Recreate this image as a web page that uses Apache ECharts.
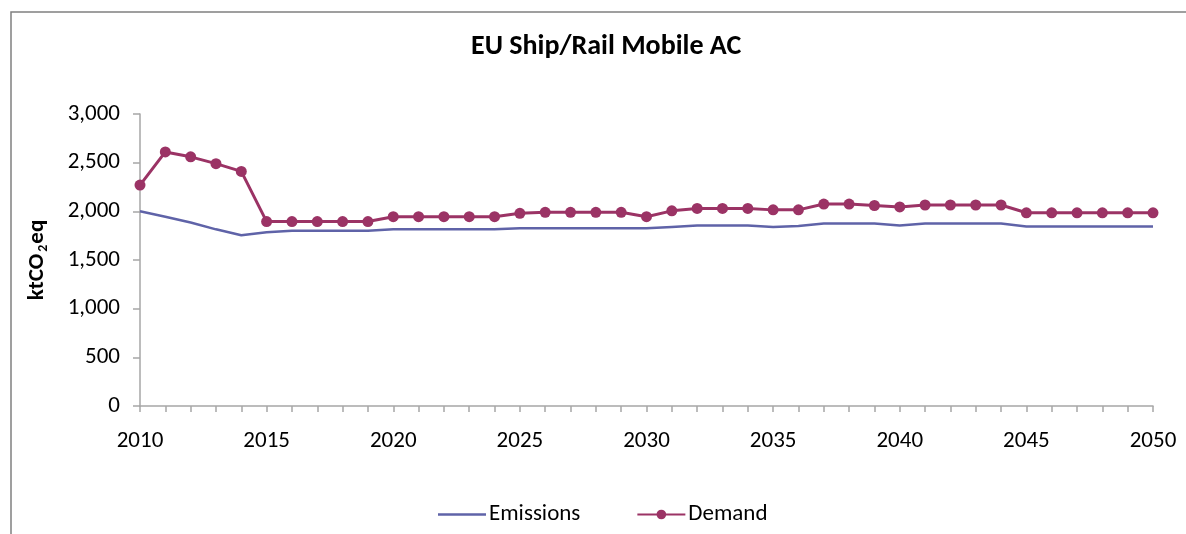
<!DOCTYPE html>
<html>
<head>
<meta charset="utf-8">
<script src="https://cdn.jsdelivr.net/npm/echarts@6/dist/echarts.min.js"></script>
<style>
  html, body { margin: 0; padding: 0; background: #fff; }
  #chart { width: 1186px; height: 534px; }
</style>
</head>
<body>
<div id="chart"></div>
<script>
// Yearly series, 2010–2050 (ktCO2eq)
const years = [];
for (let y = 2010; y <= 2050; y++) years.push(y);

const emissions = [
  2000, 1945, 1885, 1815, 1755, 1785, 1800, 1800, 1800, 1800,
  1815, 1815, 1815, 1815, 1815, 1825, 1825, 1825, 1825, 1825,
  1825, 1840, 1855, 1855, 1855, 1840, 1850, 1875, 1875, 1875,
  1855, 1875, 1875, 1875, 1875, 1845, 1845, 1845, 1845, 1845,
  1845
];

const demand = [
  2270, 2610, 2560, 2490, 2410, 1895, 1895, 1895, 1895, 1895,
  1945, 1945, 1945, 1945, 1945, 1980, 1990, 1990, 1990, 1990,
  1945, 2005, 2030, 2030, 2030, 2015, 2015, 2075, 2075, 2060,
  2045, 2065, 2065, 2065, 2065, 1985, 1985, 1985, 1985, 1985,
  1985
];

const yTicks = { min: 0, max: 3000, interval: 500 };
const xTicks = { min: 2010, max: 2050, interval: 5 };

const FONT = 'Carlito, Lato, "Liberation Sans", sans-serif';
const AXIS_GRAY = '#a6a6a6';
const BLUE = '#5f63a8';
const PURPLE = '#9b3365';

const pair = arr => years.map((y, i) => [y, arr[i]]);

const chart = echarts.init(document.getElementById('chart'), null, { renderer: 'canvas' });
chart.setOption({
  backgroundColor: '#fff',
  animation: false,
  textStyle: { fontFamily: FONT },
  title: {
    text: 'EU Ship/Rail Mobile AC',
    left: 466,
    top: 28,
    textStyle: { fontFamily: FONT, fontSize: 28, fontWeight: 'bold', color: '#000' }
  },
  graphic: [
    // outer frame (top and left edges)
    { type: 'polyline', silent: true,
      shape: { points: [[11, 534], [11, 12], [1186, 12]] },
      style: { stroke: '#808080', lineWidth: 1.5, fill: null } }
  ],
  grid: { left: 140, right: 33, top: 114, bottom: 128, containLabel: false },
  legend: {
    left: 433,
    top: 498,
    itemWidth: 48,
    itemHeight: 12,
    itemGap: 56,
    textStyle: { fontFamily: FONT, fontSize: 23, color: '#000', padding: [0, 0, 0, -2] },
    data: [
      { name: 'Emissions', icon: 'path://M0,0H48V2.5H0Z' },
      { name: 'Demand' }
    ]
  },
  xAxis: {
    type: 'value',
    min: xTicks.min,
    max: xTicks.max,
    interval: xTicks.interval,
    axisLine: { show: true, onZero: false, lineStyle: { color: AXIS_GRAY, width: 1.5 } },
    axisTick: { show: true, inside: false, length: 6, lineStyle: { color: AXIS_GRAY, width: 1.5 } },
    minorTick: { show: true, splitNumber: 5, length: 6, lineStyle: { color: AXIS_GRAY, width: 1.5 } },
    splitLine: { show: false },
    axisLabel: { margin: 24, fontFamily: FONT, fontSize: 23, color: '#000', formatter: v => String(v) }
  },
  yAxis: {
    type: 'value',
    min: yTicks.min,
    max: yTicks.max,
    interval: yTicks.interval,
    name: 'ktCO{sub|2}eq',
    nameLocation: 'middle',
    nameGap: 90,
    nameRotate: 90,
    nameTextStyle: {
      fontFamily: FONT, fontSize: 23, fontWeight: 'bold', color: '#000',
      rich: { sub: { fontFamily: FONT, fontSize: 14, fontWeight: 'bold', color: '#000', padding: [12, 1, 0, 2] } }
    },
    axisLine: { show: true, lineStyle: { color: AXIS_GRAY, width: 1.5 } },
    axisTick: { show: true, inside: false, length: 7, lineStyle: { color: AXIS_GRAY, width: 1.5 } },
    splitLine: { show: false },
    axisLabel: {
      margin: 20, fontFamily: FONT, fontSize: 23, color: '#000',
      formatter: v => v.toLocaleString('en-US')
    }
  },
  series: [
    {
      name: 'Emissions',
      type: 'line',
      data: pair(emissions),
      symbol: 'none',
      lineStyle: { color: BLUE, width: 2.5 },
      itemStyle: { color: BLUE },
      z: 2
    },
    {
      name: 'Demand',
      type: 'line',
      data: pair(demand),
      symbol: 'circle',
      symbolSize: 11,
      lineStyle: { color: PURPLE, width: 3 },
      itemStyle: { color: PURPLE },
      z: 3
    }
  ]
});
</script>
</body>
</html>
